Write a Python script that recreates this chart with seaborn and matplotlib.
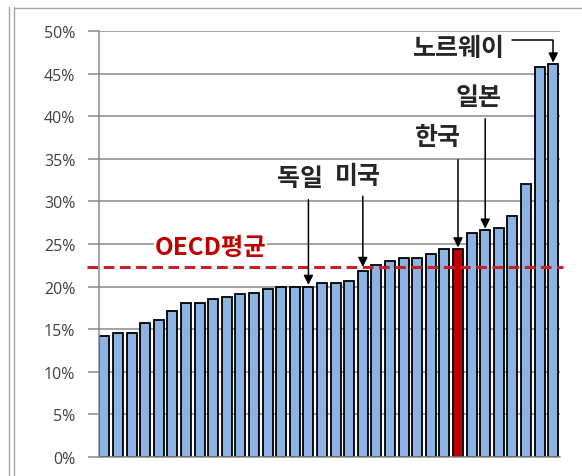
import numpy as np
import matplotlib
matplotlib.use('Agg')
import matplotlib.pyplot as plt
from matplotlib.lines import Line2D
from matplotlib.ticker import FuncFormatter, MultipleLocator
import seaborn as sns

# share per OECD country, sorted ascending
shares = [14.2, 14.5, 14.5, 15.7, 16.1, 17.1, 18.1, 18.1, 18.5, 18.8,
          19.1, 19.3, 19.7, 19.9, 20.0, 20.0, 20.4, 20.4, 20.7, 21.8,
          22.5, 23.0, 23.4, 23.4, 23.8, 24.4, 24.4, 26.3, 26.6, 26.9,
          28.3, 32.1, 45.8, 46.1]
oecd_avg = 22.3
korea_idx = 26
# label, bar index
callouts = [('독일', 15), ('미국', 19), ('한국', 26), ('일본', 28)]
norway_idx = 33

BLUE = '#8DB3E2'
RED = '#C00000'
GRID = '#8a8a8a'


def main():
    sns.set_style('white')
    plt.rcParams['font.family'] = ['Noto Sans CJK KR', 'DejaVu Sans']

    fig = plt.figure(figsize=(5.82, 4.77), dpi=100)
    ax = fig.add_axes([99 / 582, 1 - 458 / 477, (560 - 99) / 582, (458 - 32) / 477])

    pos = np.arange(len(shares))
    colors = [RED if i == korea_idx else BLUE for i in pos]
    sns.barplot(x=pos, y=shares, hue=pos, palette=colors, legend=False,
                width=0.74, edgecolor='black', linewidth=1.3, saturation=1, ax=ax)

    ax.set_xlim(-0.4, len(shares) - 0.5)
    ax.set_ylim(0, 50)
    ax.yaxis.set_major_locator(MultipleLocator(5))
    ax.yaxis.set_major_formatter(FuncFormatter(lambda v, _: f'{v:.0f}%'))
    ax.set_xticks([])
    ax.set_xlabel('')
    ax.set_ylabel('')
    ax.grid(axis='y', color=GRID, lw=1.1)
    ax.set_axisbelow(True)
    for s in ['top', 'right']:
        ax.spines[s].set_visible(False)
    for s in ['left', 'bottom']:
        ax.spines[s].set_color(GRID)
        ax.spines[s].set_linewidth(1.1)
    ax.tick_params(axis='y', left=True, length=8, width=1.1, color=GRID,
                   pad=9, labelsize=11.5, labelcolor='#404040')
    for lab in ax.get_yticklabels():
        lab.set_fontfamily(['Open Sans', 'DejaVu Sans'])

    # OECD average line, running a bit past the plot on both sides
    ax.plot([-1.3, len(shares) - 0.3], [oecd_avg, oecd_avg], ls=(0, (3.5, 1.8)),
            color='#C8202A', lw=2.2, clip_on=False, zorder=5)
    ax.text(7.8, 24.6, 'OECD평균', color=RED, fontsize=17.5, fontweight='bold',
            ha='center', va='center', zorder=6,
            bbox=dict(facecolor='white', edgecolor='none', pad=0.5))

    arrow = dict(arrowstyle='-|>', color='black', lw=1.1, mutation_scale=14,
                 shrinkA=0, shrinkB=0)
    text_y = {'독일': 32.8, '미국': 33.0, '한국': 37.6, '일본': 42.3}
    tail_y = {'독일': 30.2, '미국': 30.6, '한국': 34.9, '일본': 39.7}
    text_dx = {'독일': -0.65, '미국': -0.37, '한국': -1.45, '일본': -0.45}
    for label, i in callouts:
        tip = max(shares[i], oecd_avg) if label == '미국' else shares[i] + 0.2
        ax.annotate('', xy=(i, tip), xytext=(i, tail_y[label]), arrowprops=arrow, zorder=7)
        ax.text(i + text_dx[label], text_y[label], label, fontsize=18, fontweight='bold',
                ha='center', va='center')

    # Norway: elbow arrow from the right of the label
    ax.annotate('', xy=(norway_idx, shares[norway_idx] + 0.2), xytext=(29.95, 49.0),
                arrowprops=dict(arrow, connectionstyle='angle,angleA=0,angleB=90,rad=0'),
                annotation_clip=False)
    ax.text(29.45, 48.0, '노르웨이', fontsize=18, fontweight='bold', ha='right', va='center')

    # frame lines of the original slide
    frame = dict(transform=fig.transFigure, color='#a6a6a6', lw=1)
    fig.add_artist(Line2D([8.5 / 582, 8.5 / 582], [0, 1 - 8 / 477], **frame))
    fig.add_artist(Line2D([13.5 / 582, 13.5 / 582], [0, 1 - 8 / 477], **frame))
    fig.add_artist(Line2D([13.5 / 582, 1], [1 - 8.5 / 477, 1 - 8.5 / 477], **frame))

    fig.savefig('out.png', dpi=100)


if __name__ == '__main__':
    main()
